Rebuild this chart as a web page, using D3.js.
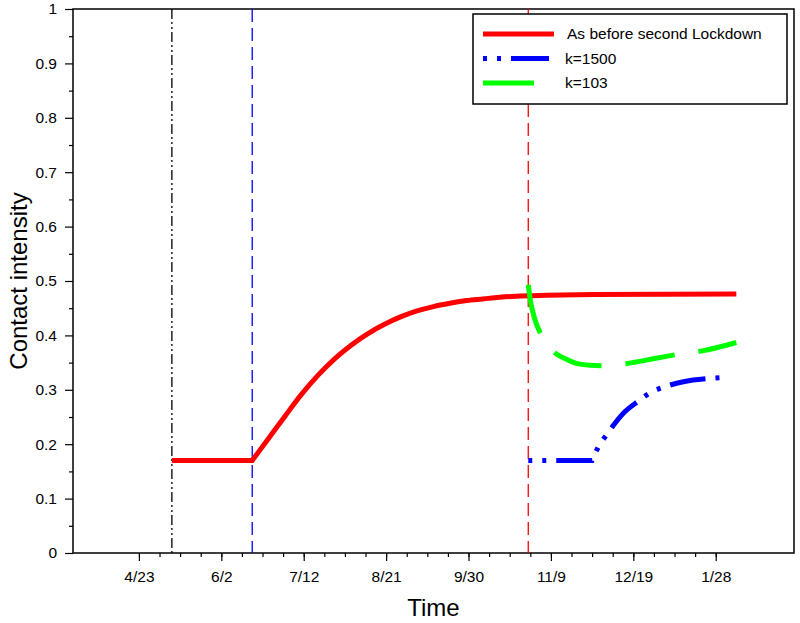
<!DOCTYPE html>
<html>
<head>
<meta charset="utf-8">
<script src="https://cdn.jsdelivr.net/npm/d3@7"></script>
<style>
  body { margin: 0; background: #fff; }
  svg { font-family: "Liberation Sans", Arial, sans-serif; }
</style>
</head>
<body>
<div id="chart"></div>
<script>
// data
var redDates = ["2020-05-09","2020-06-17","2020-06-25","2020-07-03","2020-07-11","2020-07-19","2020-07-27",
                "2020-08-04","2020-08-12","2020-08-20","2020-08-28","2020-09-05","2020-09-13","2020-09-21",
                "2020-09-29","2020-10-07","2020-10-15","2020-10-23","2020-10-31","2020-11-30","2021-02-07"];
var redValues = [0.17,0.17,0.211,0.252,0.292,0.327,0.357,0.382,0.403,0.420,0.434,0.445,0.453,0.459,
                 0.464,0.467,0.470,0.472,0.473,0.475,0.476];

var blueDates = ["2020-10-29","2020-11-29","2020-12-02","2020-12-06","2020-12-10","2020-12-15","2020-12-21",
                 "2020-12-27","2021-01-02","2021-01-09","2021-01-17","2021-01-25","2021-02-02"];
var blueValues = [0.17,0.17,0.195,0.217,0.238,0.26,0.278,0.294,0.304,0.312,0.318,0.321,0.323];

var greenDates = ["2020-10-29","2020-10-30","2020-11-01","2020-11-04","2020-11-07","2020-11-11","2020-11-16",
                  "2020-11-21","2020-11-28","2020-12-05","2020-12-17","2020-12-30","2021-01-11","2021-01-22","2021-02-07"];
var greenValues = [0.493,0.465,0.432,0.403,0.385,0.368,0.357,0.349,0.345,0.344,0.349,0.358,0.366,0.372,0.387];

var lineDates = ["2020-05-09","2020-06-17","2020-10-29"];
var lineColors = ["#000","#0000ff","#ff0000"];
var lineDash = ["10,3,2,3,2,3","13,6","13,6"];

var xTickDates = ["2020-04-23","2020-06-02","2020-07-12","2020-08-21","2020-09-30","2020-11-09","2020-12-19","2021-01-28"];
var yTicks = [0,0.1,0.2,0.3,0.4,0.5,0.6,0.7,0.8,0.9,1];

var legendNames = ["As before second Lockdown","k=1500","k=103"];

var parse = d3.timeParse("%Y-%m-%d");
var fmt = d3.timeFormat("%-m/%-d");

var W = 800, H = 623;
var pL = 73, pR = 794, pT = 9, pB = 553;

var svg = d3.select("#chart").append("svg")
    .attr("width", W).attr("height", H);

var x = d3.scaleTime()
    .domain([parse("2020-03-22"), parse("2021-03-07")])
    .range([pL, pR]);
var y = d3.scaleLinear().domain([0, 1]).range([pB, pT]);

// frame
svg.append("rect")
    .attr("x", pL).attr("y", pT)
    .attr("width", pR - pL).attr("height", pB - pT)
    .attr("fill", "none").attr("stroke", "#000").attr("stroke-width", 1.5);

// x axis: major ticks every 40 days, minor every 10
var majors = xTickDates.map(parse);
var minors = d3.timeDay.range(majors[0], d3.timeDay.offset(majors[majors.length - 1], 1), 10);
svg.append("g")
    .attr("transform", "translate(0," + pB + ")")
    .call(d3.axisBottom(x).tickValues(minors).tickSize(4).tickFormat(""))
    .call(function(g) { g.select(".domain").remove(); });
svg.append("g")
    .attr("transform", "translate(0," + pB + ")")
    .call(d3.axisBottom(x).tickValues(majors).tickSize(8).tickPadding(10).tickFormat(fmt))
    .call(function(g) { g.select(".domain").remove(); })
    .selectAll("text").style("font-size", "15.5px").attr("fill", "#000");

// y axis
var yMinor = d3.range(0.05, 1, 0.1);
svg.append("g")
    .attr("transform", "translate(" + pL + ",0)")
    .call(d3.axisLeft(y).tickValues(yMinor).tickSize(4).tickFormat(""))
    .call(function(g) { g.select(".domain").remove(); });
svg.append("g")
    .attr("transform", "translate(" + pL + ",0)")
    .call(d3.axisLeft(y).tickValues(yTicks).tickSize(8).tickPadding(8).tickFormat(d3.format("")))
    .call(function(g) { g.select(".domain").remove(); })
    .selectAll("text").style("font-size", "15.5px").attr("fill", "#000");

svg.selectAll(".tick line").attr("stroke", "#000").attr("stroke-width", 1.2);

// axis titles
svg.append("text")
    .attr("x", (pL + pR) / 2).attr("y", 616)
    .attr("text-anchor", "middle").style("font-size", "24px")
    .text("Time");
svg.append("text")
    .attr("transform", "translate(27," + ((pT + pB) / 2) + ") rotate(-90)")
    .attr("text-anchor", "middle").style("font-size", "24px")
    .text("Contact intensity");

// vertical marker lines
svg.selectAll(".vline")
    .data(lineDates)
    .enter().append("line")
    .attr("x1", function(d) { return x(parse(d)); })
    .attr("x2", function(d) { return x(parse(d)); })
    .attr("y1", pT).attr("y2", pB)
    .attr("stroke", function(d, i) { return lineColors[i]; })
    .attr("stroke-width", 1.3)
    .attr("stroke-dasharray", function(d, i) { return lineDash[i]; });

// curves: straight flat piece, then a smooth piece starting at the kink
var flat = d3.line()
    .x(function(d) { return x(d[0]); })
    .y(function(d) { return y(d[1]); });
var smooth = d3.line()
    .curve(d3.curveMonotoneX)
    .x(function(d) { return x(d[0]); })
    .y(function(d) { return y(d[1]); });

function pairs(ds, vs) { return ds.map(function(d, i) { return [parse(d), vs[i]]; }); }

// kink index k: first k+1 points straight, rest smooth; joined in one path
function kinked(pts, k) {
    var a = flat(pts.slice(0, k + 1));
    var b = smooth(pts.slice(k));
    return a + "L" + b.slice(1);
}

var redPts = pairs(redDates, redValues);
var bluePts = pairs(blueDates, blueValues);
var greenPts = pairs(greenDates, greenValues);

svg.append("path")
    .attr("d", kinked(redPts, 1)).attr("fill", "none")
    .attr("stroke", "#ff0000").attr("stroke-width", 5);
svg.append("path")
    .attr("d", kinked(bluePts, 1)).attr("fill", "none")
    .attr("stroke", "#0000ff").attr("stroke-width", 5)
    .attr("stroke-dasharray", "4,10,4,10,36,10");
svg.append("path")
    .attr("d", smooth(greenPts)).attr("fill", "none")
    .attr("stroke", "#00ff00").attr("stroke-width", 5)
    .attr("stroke-dasharray", "50,24");

// legend
var lg = svg.append("g");
lg.append("rect")
    .attr("x", 473).attr("y", 14).attr("width", 314).attr("height", 90)
    .attr("fill", "#fff").attr("stroke", "#000").attr("stroke-width", 1.5);
var legColors = ["#ff0000","#0000ff","#00ff00"];
var legDash = [null, "4,10,4,10,38,10", null];
var legLen = [71, 66, 51];
var legTextX = [567, 565, 565];
legendNames.forEach(function(name, i) {
    var ly = 34 + i * 24.5;
    lg.append("line")
        .attr("x1", 483).attr("x2", 483 + legLen[i])
        .attr("y1", ly).attr("y2", ly)
        .attr("stroke", legColors[i]).attr("stroke-width", 5)
        .attr("stroke-dasharray", legDash[i]);
    lg.append("text")
        .attr("x", legTextX[i]).attr("y", ly).attr("dy", "0.35em")
        .style("font-size", "15.5px")
        .text(name);
});
</script>
</body>
</html>
